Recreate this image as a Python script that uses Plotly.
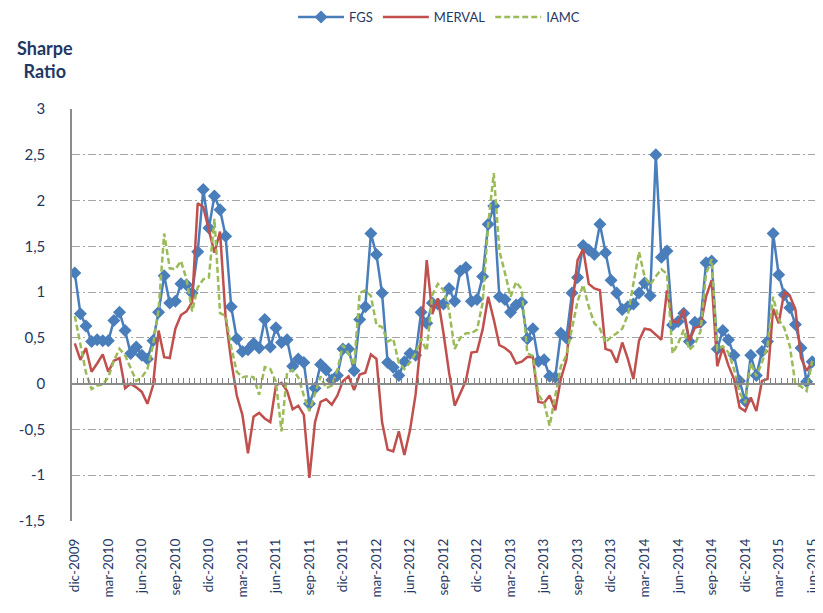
import plotly.graph_objects as go

# Half-monthly observations, dic-2009 .. jun-2015
fgs = [1.21, 0.765, 0.63, 0.46, 0.48, 0.47, 0.47, 0.69, 0.78, 0.58,
       0.33, 0.40, 0.31, 0.27, 0.47, 0.78, 1.18, 0.88, 0.90, 1.09,
       1.08, 0.99, 1.44, 2.12, 1.70, 2.05, 1.90, 1.61, 0.84, 0.49,
       0.35, 0.37, 0.44, 0.39, 0.70, 0.40, 0.61, 0.45, 0.48, 0.19,
       0.27, 0.23, -0.22, -0.05, 0.21, 0.15, 0.04, 0.09, 0.38, 0.38,
       0.14, 0.70, 0.84, 1.64, 1.41, 0.99, 0.23, 0.18, 0.09, 0.24,
       0.33, 0.31, 0.78, 0.66, 0.88, 0.87, 0.87, 1.04, 0.90, 1.23,
       1.27, 0.90, 0.92, 1.17, 1.74, 1.94, 0.95, 0.92, 0.78, 0.86,
       0.89, 0.49, 0.60, 0.245, 0.26, 0.08, 0.07, 0.55, 0.50, 0.99,
       1.16, 1.51, 1.46, 1.41, 1.74, 1.43, 1.13, 0.99, 0.81, 0.84,
       0.87, 0.99, 1.10, 0.96, 2.50, 1.38, 1.45, 0.64, 0.68, 0.77,
       0.46, 0.67, 0.67, 1.32, 1.34, 0.38, 0.58, 0.48, 0.31, 0.03,
       -0.19, 0.31, 0.09, 0.35, 0.46, 1.64, 1.19, 0.97, 0.83, 0.645,
       0.39, 0.02, 0.24]

merval = [0.44, 0.26, 0.39, 0.13, 0.22, 0.32, 0.13, 0.25, 0.28, -0.05,
          0.0, -0.04, -0.09, -0.22, -0.02, 0.58, 0.29, 0.28, 0.60, 0.75,
          0.79, 0.89, 1.97, 1.93, 1.68, 1.43, 1.66, 0.72, 0.25, -0.13,
          -0.34, -0.76, -0.36, -0.32, -0.38, -0.42, -0.02, 0.01, -0.08, -0.28,
          -0.24, -0.34, -1.03, -0.42, -0.20, -0.17, -0.23, -0.13, 0.03, 0.08,
          -0.07, 0.10, 0.12, 0.32, 0.27, -0.42, -0.72, -0.74, -0.52, -0.78,
          -0.51, -0.12, 0.50, 1.35, 0.76, 0.93, 0.55, 0.12, -0.24, -0.10,
          0.03, 0.34, 0.35, 0.59, 0.95, 0.70, 0.42, 0.39, 0.34, 0.22,
          0.24, 0.29, 0.29, -0.20, -0.21, -0.13, -0.29, 0.05, 0.26, 0.84,
          1.35, 1.47, 1.09, 1.04, 1.02, 0.38, 0.36, 0.23, 0.45, 0.27,
          0.05, 0.47, 0.60, 0.59, 0.53, 0.48, 1.02, 0.68, 0.67, 0.81,
          0.47, 0.61, 0.63, 0.95, 1.13, 0.19, 0.39, 0.20, 0.05, -0.26,
          -0.30, -0.15, -0.30, 0.03, 0.05, 0.82, 0.66, 1.00, 0.96, 0.81,
          0.28, 0.14, 0.24]

iamc = [0.74, 0.42, 0.12, -0.06, -0.02, -0.01, 0.07, 0.25, 0.38, 0.31,
        0.17, 0.03, 0.07, 0.16, 0.42, 0.81, 1.64, 1.26, 1.25, 1.34,
        1.14, 0.79, 1.05, 1.14, 1.16, 1.80, 0.77, 0.74, 0.40, 0.13,
        0.07, 0.08, 0.07, -0.12, 0.18, 0.16, 0.02, -0.52, 0.12, 0.15,
        0.07, -0.13, -0.30, -0.10, 0.08, -0.05, -0.02, 0.15, 0.42, 0.33,
        0.20, 0.99, 1.02, 0.96, 0.64, 0.62, 0.46, 0.49, 0.23, 0.16,
        0.23, 0.33, 0.49, 0.36, 0.97, 1.09, 1.02, 0.80, 0.38, 0.50,
        0.55, 0.55, 0.59, 0.88, 1.74, 2.30, 1.45, 1.21, 0.95, 1.11,
        1.03, 0.33, 0.30, -0.12, -0.21, -0.46, -0.13, 0.19, 0.31, 0.60,
        0.90, 1.08, 0.84, 0.66, 0.60, 0.45, 0.51, 0.55, 0.60, 0.75,
        1.10, 1.44, 1.17, 1.08, 1.17, 1.25, 1.20, 0.33, 0.44, 0.59,
        0.37, 0.43, 0.57, 1.20, 1.36, 0.37, 0.41, 0.34, 0.16, -0.10,
        -0.21, 0.23, 0.08, 0.23, 0.41, 0.95, 0.70, 0.61, 0.41, -0.01,
        -0.03, -0.08, 0.25]

tick_labels = ["dic-2009", "mar-2010", "jun-2010", "sep-2010", "dic-2010",
               "mar-2011", "jun-2011", "sep-2011", "dic-2011", "mar-2012",
               "jun-2012", "sep-2012", "dic-2012", "mar-2013", "jun-2013",
               "sep-2013", "dic-2013", "mar-2014", "jun-2014", "sep-2014",
               "dic-2014", "mar-2015", "jun-2015"]
periods_per_label = 6

y_ticks = [3, 2.5, 2, 1.5, 1, 0.5, 0, -0.5, -1, -1.5]
y_tick_text = ["3", "2,5", "2", "1,5", "1", "0,5", "0", "-0,5", "-1", "-1,5"]

n = len(fgs)
x = list(range(n))

TEXT = "#1F3864"
FONT = "Lato"

fig = go.Figure()
fig.add_trace(go.Scatter(x=x, y=fgs, name="FGS", mode="lines+markers",
                         line=dict(color="#4A7EBB", width=2.5),
                         marker=dict(symbol="diamond", size=10, color="#4A7EBB")))
fig.add_trace(go.Scatter(x=x, y=merval, name="MERVAL", mode="lines",
                         line=dict(color="#C0504D", width=2.5)))
fig.add_trace(go.Scatter(x=x, y=iamc, name="IAMC", mode="lines",
                         line=dict(color="#9BBB59", width=2.5, dash="6px,3px")))
# carrier for the category axis drawn at y = 0
fig.add_trace(go.Scatter(x=[0], y=[None], xaxis="x2", showlegend=False,
                         hoverinfo="skip", mode="lines"))

y_min, y_max = -1.5, 3
x_range = [-0.5, n - 0.5]
fig.update_layout(
    width=815, height=605,
    margin=dict(l=64, r=8, t=101, b=91.5, autoexpand=False),
    paper_bgcolor="white", plot_bgcolor="white",
    font=dict(family=FONT, color=TEXT, size=13),
    showlegend=True,
    legend=dict(orientation="h", x=0.494, xanchor="center", y=1.223, yanchor="middle",
                font=dict(size=13, color=TEXT), itemwidth=46),
    xaxis=dict(type="linear", range=x_range, automargin=False,
               tickmode="array",
               tickvals=[i * periods_per_label for i in range(len(tick_labels))],
               ticktext=tick_labels, tickangle=-90,
               showgrid=False, zeroline=False, showline=False, ticks="",
               ticklabelstandoff=14, tickfont=dict(size=13.5, color=TEXT)),
    xaxis2=dict(type="linear", overlaying="x", range=x_range, anchor="free",
                position=(0 - y_min) / (y_max - y_min), automargin=False,
                showline=True, linecolor="#8C8C8C", linewidth=1.5,
                ticks="inside", ticklen=5, tickwidth=1.2, tickcolor="#808080",
                tickmode="array", tickvals=[i - 0.5 for i in range(n + 1)],
                showticklabels=False, showgrid=False, zeroline=False),
    yaxis=dict(range=[y_min, y_max], tickmode="array", tickvals=y_ticks,
               ticktext=y_tick_text, automargin=False,
               showgrid=True, gridcolor="#A6A6A6", gridwidth=1,
               griddash="8px,3px,2px,3px", zeroline=False,
               showline=True, linecolor="#8C8C8C", linewidth=1.5,
               ticks="", ticklabelstandoff=22, tickfont=dict(size=15, color=TEXT)),
    annotations=[dict(text="<b>Sharpe<br>Ratio</b>", xref="paper", yref="paper",
                      x=-0.036, y=1.12, xanchor="center", yanchor="middle",
                      showarrow=False, align="center",
                      font=dict(size=18, color=TEXT, family=FONT))],
)

fig.write_html("out.html")
